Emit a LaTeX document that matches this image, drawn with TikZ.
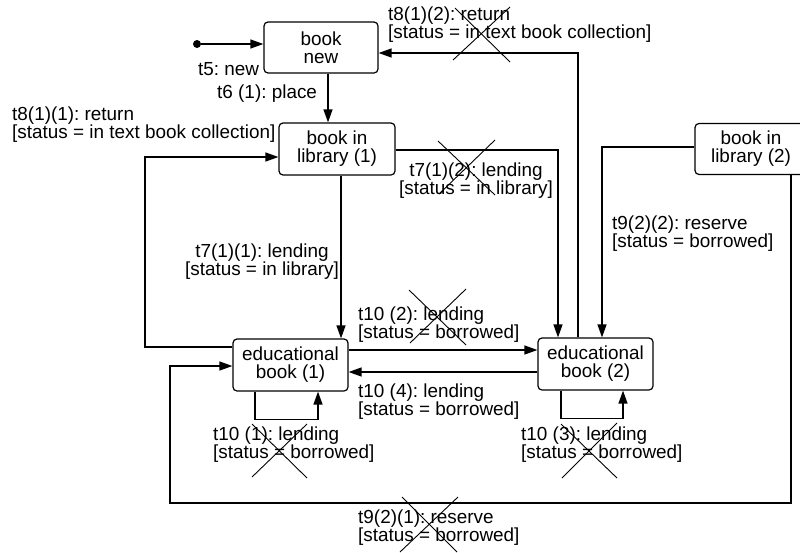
\documentclass[tikz,border=0pt]{standalone}
\usepackage{fontspec}
\setmainfont{Liberation Sans}
\usetikzlibrary{arrows.meta}
\newcommand\lblfont{\fontsize{18.9}{18}\selectfont}
\frenchspacing
\begin{document}
\begin{tikzpicture}[x=1pt,y=-1pt,
  state/.style={draw,line width=1.2pt,rounded corners=4pt,align=center,
    inner sep=0pt,font=\lblfont,minimum width=115pt,minimum height=52pt},
  lbl/.style={inner sep=0pt,align=left,font=\lblfont},
  flow/.style={line width=1.3pt,-{Triangle[length=13pt,width=9pt]}},
  xmark/.style={line width=0.9pt}]
\useasboundingbox (0,0) rectangle (800,552);

% states
\node[state,minimum width=114pt,minimum height=51pt] (bnew) at (321,47.5) {book\\new};
\node[state,minimum width=116pt] (lib1) at (337,149) {book in\\library (1)};
\node[state,minimum width=112pt,minimum height=51pt] (lib2) at (751,149) {book in\\library (2)};
\node[state] (ed1) at (290.5,365) {educational\\book (1)};
\node[state] (ed2) at (595.5,364) {educational\\book (2)};
\node[circle,fill,inner sep=0pt,minimum size=8pt] (init) at (197,44) {};

% transitions
\draw[flow] (init) -- (init -| bnew.west);
\coordinate (c1) at ([xshift=7pt]bnew.south);
\draw[flow] (c1) -- (c1 |- lib1.north);
\coordinate (k1) at (145,157);
\draw[flow] ([yshift=18pt]ed1.west) -| (k1) -- (k1 -| lib1.west);
\coordinate (c4) at ([xshift=4pt]lib1.south);
\draw[flow] (c4) -- (c4 |- ed1.north);
\draw[flow] ([yshift=-1pt]lib1.east) -| ([xshift=-37.5pt]ed2.north);
\draw[flow] ([xshift=-17.5pt]ed2.north) |- ([yshift=-5.5pt]bnew.east);
\draw[flow] ([yshift=2pt]lib2.west) -| ([xshift=6.5pt]ed2.north);
\coordinate (k2) at (170,503);
\draw[flow] ([xshift=40pt]lib2.south) |- (k2) |- ([yshift=-1pt]ed1.west);
\coordinate (c9) at ([yshift=15pt]ed1.east);
\draw[flow] (c9) -- (c9 -| ed2.west);
\coordinate (c10) at ([yshift=-8pt]ed2.west);
\draw[flow] (c10) -- (c10 -| ed1.east);
\draw[flow] ([xshift=-35.5pt]ed1.south) -- ++(0,28) -| ([xshift=27.5pt]ed1.south);
\draw[flow] ([xshift=-34.5pt]ed2.south) -- ++(0,28) -| ([xshift=27.5pt]ed2.south);

% transition labels
\node[lbl,anchor=west] (l5) at (198,69) {t5: new};
\node[lbl,anchor=west] (l6) at (217,94) {t6 (1): place};
\node[lbl,anchor=west] (l812) at (388,24.5) {t8(1)(2): return\\{[}status = in text book collection]};
\node[lbl,anchor=west] (l811) at (12,125) {t8(1)(1): return\\{[}status = in text book collection]};
\node[lbl,align=center] (l711) at (262,262) {t7(1)(1): lending\\{[}status = in library]};
\node[lbl,align=center] (l712) at (476,180.5) {t7(1)(2): lending\\{[}status = in library]};
\node[lbl,anchor=west] (l922) at (612,234) {t9(2)(2): reserve\\{[}status = borrowed]};
\node[lbl,anchor=west] (l102) at (358,325) {t10 (2): lending\\{[}status = borrowed]};
\node[lbl,anchor=west] (l104) at (358,401.5) {t10 (4): lending\\{[}status = borrowed]};
\node[lbl,anchor=west] (l101) at (213,445) {t10 (1): lending\\{[}status = borrowed]};
\node[lbl,anchor=west] (l103) at (521,445) {t10 (3): lending\\{[}status = borrowed]};
\node[lbl,anchor=west] (l921) at (358,528) {t9(2)(1): reserve\\{[}status = borrowed]};

% struck-out transitions
\draw[xmark] (455,8) -- (510,62) (510,7) -- (453,60);
\draw[xmark] (438,141) -- (495,195) (495,140) -- (439,194);
\draw[xmark] (409,290) -- (466,345) (466,289) -- (410,343);
\draw[xmark] (252,424) -- (307,478) (307,424) -- (252,477);
\draw[xmark] (561,424) -- (617,478) (617,423) -- (562,478);
\draw[xmark] (402,497) -- (457,552) (458,497) -- (400,552);
\end{tikzpicture}
\end{document}
